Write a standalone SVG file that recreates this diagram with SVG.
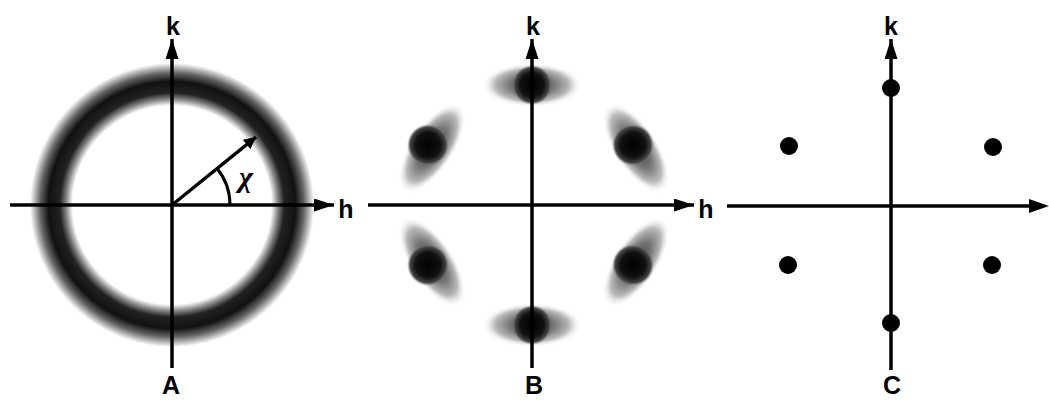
<svg xmlns="http://www.w3.org/2000/svg" width="1049" height="400" viewBox="0 0 1049 400">
<style>
.ax{stroke:#000;stroke-width:3.5;fill:none}
.lbl{font-family:"Liberation Sans",Arial,sans-serif;font-weight:bold;font-size:25px;fill:#000;text-anchor:middle}
.dot{fill:#000}
</style>
<defs>
<marker id="arr" markerUnits="userSpaceOnUse" markerWidth="22" markerHeight="14" refX="20" refY="6.5" orient="auto">
<path d="M0,0 L20,6.5 L0,13 z" fill="#000"/>
</marker>
<marker id="arrs" markerUnits="userSpaceOnUse" markerWidth="14" markerHeight="12" refX="12" refY="6" orient="auto">
<path d="M0,0 L12,6 L0,12 z" fill="#000"/>
</marker>
<radialGradient id="ring" gradientUnits="userSpaceOnUse" cx="172" cy="205" r="142">
<stop offset="0.70" stop-color="#fff"/>
<stop offset="0.745" stop-color="#888"/>
<stop offset="0.79" stop-color="#222"/>
<stop offset="0.87" stop-color="#111"/>
<stop offset="0.93" stop-color="#666"/>
<stop offset="1" stop-color="#fff"/>
</radialGradient>
<radialGradient id="halo">
<stop offset="0" stop-color="#333"/>
<stop offset="0.45" stop-color="#777"/>
<stop offset="0.75" stop-color="#bbb"/>
<stop offset="1" stop-color="#fff" stop-opacity="0"/>
</radialGradient>
<radialGradient id="core">
<stop offset="0" stop-color="#000"/>
<stop offset="0.6" stop-color="#111"/>
<stop offset="0.85" stop-color="#444"/>
<stop offset="1" stop-color="#888" stop-opacity="0"/>
</radialGradient>
</defs>
<g id="panelA">
<circle cx="172" cy="205" r="142" fill="url(#ring)"/>
</g>
<g id="panelB">
<g id="spotTop"><ellipse cx="532" cy="85" rx="50" ry="22" fill="url(#halo)"/><circle cx="532" cy="85" r="20" fill="url(#core)"/></g>
<g id="spotBottom"><ellipse cx="532" cy="325" rx="50" ry="22" fill="url(#halo)"/><circle cx="532" cy="325" r="20" fill="url(#core)"/></g>
<g id="spotUL"><ellipse cx="0" cy="0" rx="52" ry="22" fill="url(#halo)" transform="translate(432,148) rotate(-57)"/><circle cx="428" cy="145" r="21" fill="url(#core)"/></g>
<g id="spotUR"><ellipse cx="0" cy="0" rx="52" ry="22" fill="url(#halo)" transform="translate(636,148) rotate(57)"/><circle cx="633" cy="145" r="21" fill="url(#core)"/></g>
<g id="spotLL"><ellipse cx="0" cy="0" rx="52" ry="22" fill="url(#halo)" transform="translate(432,262) rotate(57)"/><circle cx="428" cy="265" r="21" fill="url(#core)"/></g>
<g id="spotLR"><ellipse cx="0" cy="0" rx="52" ry="22" fill="url(#halo)" transform="translate(636,262) rotate(-57)"/><circle cx="633" cy="265" r="21" fill="url(#core)"/></g>
</g>
<g id="panelC">
<circle class="dot" cx="891" cy="88" r="9"/>
<circle class="dot" cx="891" cy="323" r="9"/>
<circle class="dot" cx="789" cy="146" r="9"/>
<circle class="dot" cx="993" cy="147" r="9"/>
<circle class="dot" cx="788" cy="265" r="9"/>
<circle class="dot" cx="992" cy="265" r="9"/>
</g>
<g id="connectors">
<line class="ax" x1="172" y1="368" x2="172" y2="39" marker-end="url(#arr)"/>
<line class="ax" x1="10" y1="205" x2="334" y2="205" marker-end="url(#arr)"/>
<line class="ax" x1="172" y1="205" x2="256" y2="137" marker-end="url(#arrs)"/>
<path class="ax" d="M230,205 A58,58 0 0 0 216.7,168" style="stroke-width:3"/>
<line class="ax" x1="532" y1="368" x2="532" y2="39" marker-end="url(#arr)"/>
<line class="ax" x1="368" y1="205" x2="694" y2="205" marker-end="url(#arr)"/>
<line class="ax" x1="891" y1="370" x2="891" y2="39" marker-end="url(#arr)"/>
<line class="ax" x1="727" y1="206" x2="1032" y2="206"/>
<path d="M1029,199 L1049,206 L1029,213 z" fill="#000"/>
</g>
<g id="labels">
<text class="lbl" x="173" y="35">k</text>
<text class="lbl" x="346" y="218">h</text>
<text x="246" y="187" style="font-family:'Liberation Serif',serif;font-style:italic;font-weight:bold;font-size:30px;text-anchor:middle">χ</text>
<text class="lbl" x="171" y="394">A</text>
<text class="lbl" x="533" y="35">k</text>
<text class="lbl" x="706" y="218">h</text>
<text class="lbl" x="534" y="394">B</text>
<text class="lbl" x="891" y="35">k</text>
<text class="lbl" x="892" y="394">C</text>
</g>
</svg>
